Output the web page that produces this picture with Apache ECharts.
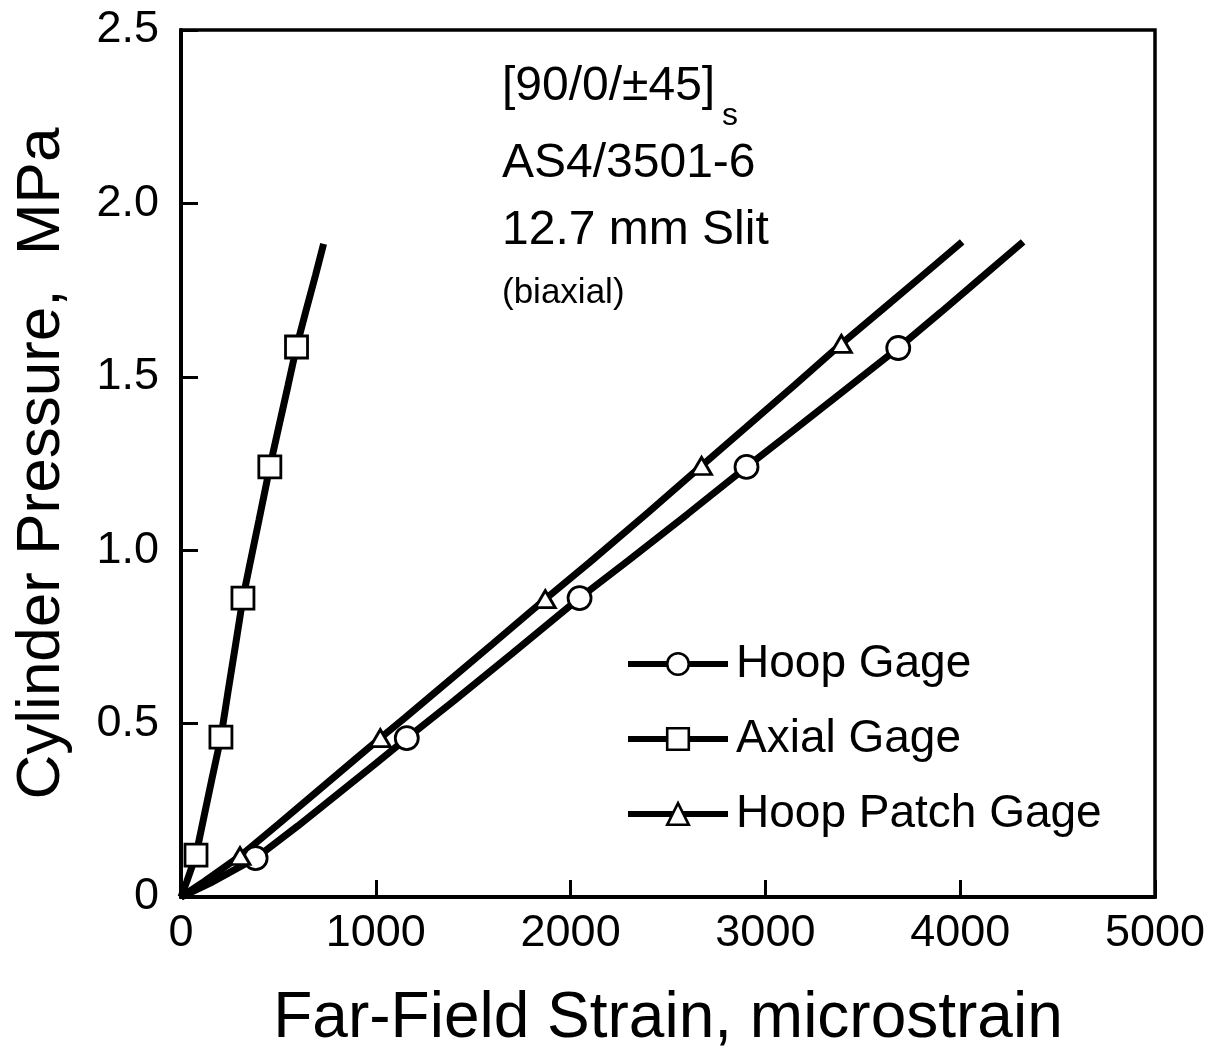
<!DOCTYPE html>
<html>
<head>
<meta charset="utf-8">
<script src="https://cdn.jsdelivr.net/npm/echarts@6/dist/echarts.min.js"></script>
<style>
html,body{margin:0;padding:0;background:#fff;}
#chart{width:1210px;height:1056px;}
</style>
</head>
<body>
<div id="chart"></div>
<script>
// ---- data (strain in microstrain, pressure in MPa) ----
const xTickLabels = ['0', '1000', '2000', '3000', '4000', '5000'];
const yTickLabels = ['0', '0.5', '1.0', '1.5', '2.0', '2.5'];

const hoopCurve = [[0,0],[150,0.04],[383,0.112],[600,0.205],[800,0.295],[1000,0.385],[1159,0.458],[1400,0.565],[1700,0.702],[2046,0.862],[2300,0.972],[2600,1.104],[2903,1.24],[3150,1.348],[3400,1.458],[3682,1.583],[3900,1.686],[4100,1.782],[4323,1.889]];
const hoopMarks = [[383,0.112],[1159,0.458],[2046,0.862],[2903,1.24],[3682,1.583]];

const axialCurve = [[0,0],[30,0.045],[77,0.121],[120,0.237],[160,0.344],[205,0.461],[240,0.587],[280,0.727],[318,0.862],[350,0.95],[400,1.086],[456,1.24],[500,1.351],[550,1.476],[593,1.586],[640,1.687],[690,1.792],[732,1.883]];
const axialMarks = [[77,0.121],[205,0.461],[318,0.862],[456,1.24],[593,1.586]];

const patchCurve = [[0,0],[120,0.045],[303,0.118],[500,0.21],[700,0.305],[900,0.4],[1023,0.458],[1150,0.517],[1400,0.635],[1600,0.73],[1870,0.859],[2100,0.966],[2400,1.11],[2672,1.243],[2900,1.354],[3150,1.476],[3390,1.595],[3600,1.694],[3800,1.789],[4010,1.889]];
const patchMarks = [[303,0.118],[1023,0.458],[1870,0.859],[2672,1.243],[3390,1.595]];

const names = ['Hoop Gage', 'Axial Gage', 'Hoop Patch Gage'];

// ---- chart ----
const FONT = '"Liberation Sans", Arial, Helvetica, sans-serif';
const chart = echarts.init(document.getElementById('chart'), null, {renderer: 'canvas'});

const markerStyle = {color: '#fff', borderColor: '#000', borderWidth: 2.8, opacity: 1};
function lineSeries(name, data, symbol, size) {
  return {
    name: name, type: 'line', data: data,
    symbol: symbol, symbolSize: size, showSymbol: false,
    lineStyle: {color: '#000', width: 7},
    itemStyle: markerStyle,
    z: 2, animation: false, silent: true
  };
}
function markSeries(name, data, symbol, size) {
  return {
    name: name, type: 'scatter', data: data,
    symbol: symbol, symbolSize: size,
    itemStyle: markerStyle,
    z: 3, animation: false, silent: true
  };
}

const option = {
  backgroundColor: '#fff',
  animation: false,
  textStyle: {fontFamily: FONT, color: '#000'},
  grid: {left: 181, right: 55, top: 30, bottom: 159, show: true, borderColor: '#000', borderWidth: 3.5, containLabel: false},
  xAxis: {
    type: 'value', min: 0, max: 5000, interval: 1000,
    name: 'Far-Field Strain, microstrain', nameLocation: 'middle', nameGap: 90,
    nameTextStyle: {fontSize: 64, color: '#000', fontFamily: FONT},
    axisLine: {show: true, onZero: false, lineStyle: {color: '#000', width: 4}},
    axisTick: {show: true, inside: true, length: 17, lineStyle: {color: '#000', width: 3}},
    axisLabel: {fontSize: 45, color: '#000', margin: 14, fontFamily: FONT,
      formatter: function (v) { return xTickLabels[Math.round(v / 1000)]; }},
    splitLine: {show: false}
  },
  yAxis: {
    type: 'value', min: 0, max: 2.5, interval: 0.5,
    name: 'Cylinder Pressure,  MPa', nameLocation: 'middle', nameGap: 108,
    nameTextStyle: {fontSize: 62, color: '#000', fontFamily: FONT},
    axisLine: {show: true, onZero: false, lineStyle: {color: '#000', width: 4}},
    axisTick: {show: true, inside: true, length: 17, lineStyle: {color: '#000', width: 3}},
    axisLabel: {fontSize: 45, color: '#000', margin: 22, fontFamily: FONT,
      formatter: function (v) { return yTickLabels[Math.round(v / 0.5)]; }},
    splitLine: {show: false}
  },
  legend: {
    orient: 'vertical', left: 620, top: 636,
    data: names,
    itemWidth: 100, itemHeight: 27, itemGap: 29,
    lineStyle: {width: 6, color: '#000'},
    itemStyle: {color: '#fff', borderColor: '#000', borderWidth: 2.6},
    textStyle: {fontSize: 46, color: '#000', fontFamily: FONT, padding: [0, 0, 0, 3]},
    selectedMode: false
  },
  graphic: [
    {type: 'text', left: 502, top: 63, style: {text: '[90/0/\u00B145]', fontSize: 48, fill: '#000', fontFamily: FONT}},
    {type: 'text', left: 722, top: 100, style: {text: 's', fontSize: 32, fill: '#000', fontFamily: FONT}},
    {type: 'text', left: 502, top: 140, style: {text: 'AS4/3501-6', fontSize: 48, fill: '#000', fontFamily: FONT}},
    {type: 'text', left: 502, top: 207, style: {text: '12.7 mm Slit', fontSize: 48, fill: '#000', fontFamily: FONT}},
    {type: 'text', left: 502, top: 276, style: {text: '(biaxial)', fontSize: 35, fill: '#000', fontFamily: FONT}}
  ],
  series: [
    lineSeries(names[0], hoopCurve, 'circle', 22),
    lineSeries(names[1], axialCurve, 'rect', 22),
    lineSeries(names[2], patchCurve, 'triangle', 18),
    markSeries(names[0], hoopMarks, 'circle', 23),
    markSeries(names[1], axialMarks, 'rect', 22),
    markSeries(names[2], patchMarks, 'triangle', [20, 17])
  ]
};
chart.setOption(option);
</script>
</body>
</html>
